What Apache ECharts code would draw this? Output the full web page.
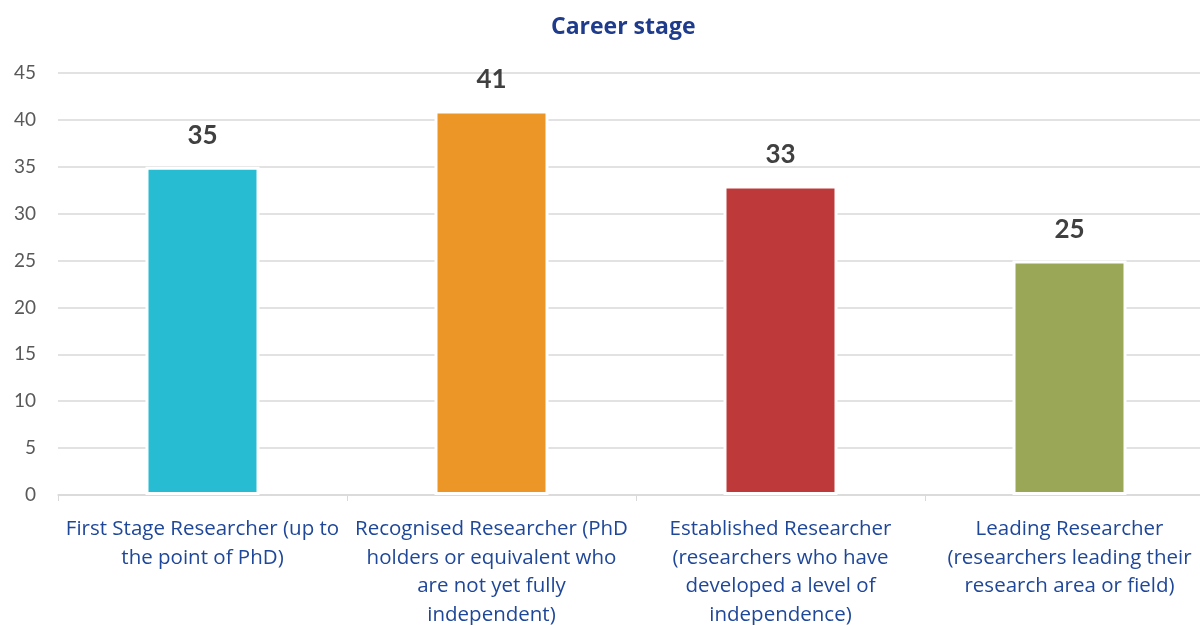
<!DOCTYPE html>
<html lang="en">
<head>
    <meta charset="UTF-8">
    <title>Career stage</title>
    <script src="https://cdn.jsdelivr.net/npm/echarts@6/dist/echarts.min.js"></script>
    <style>
        html, body { margin: 0; padding: 0; background: #fff; }
        #chart { width: 1200px; height: 625px; }
    </style>
</head>
<body>
<div id="chart"></div>
<script>
    // data
    var categories = [
        'First Stage Researcher (up to\nthe point of PhD)',
        'Recognised Researcher (PhD\nholders or equivalent who\nare not yet fully\nindependent)',
        'Established Researcher\n(researchers who have\ndeveloped a level of\nindependence)',
        'Leading Researcher\n(researchers leading their\nresearch area or field)'
    ];
    var values = [35, 41, 33, 25];
    var barColors = ['#28bcd2', '#ec9627', '#be3a3a', '#9aa757'];

    var chart = echarts.init(document.getElementById('chart'));

    var option = {
        animation: false,
        title: {
            text: 'Career stage',
            left: 546,
            top: 11,
            textStyle: { color: '#1f3b8c', fontSize: 23, fontWeight: 'bold', fontFamily: 'Open Sans' }
        },
        grid: { left: 58, right: -14, top: 73, bottom: 130, outerBoundsMode: 'none' },
        xAxis: {
            type: 'category',
            data: categories,
            axisLine: { lineStyle: { color: '#d9d9d9', width: 1.5 } },
            axisTick: { show: true, length: 6, lineStyle: { color: '#d9d9d9' } },
            axisLabel: {
                interval: 0,
                margin: 20,
                color: '#1f4799',
                fontSize: 20.5,
                lineHeight: 28.5,
                fontFamily: 'Open Sans',
                align: 'center'
            }
        },
        yAxis: {
            type: 'value',
            min: 0,
            max: 45,
            interval: 5,
            axisLine: { show: false },
            axisTick: { show: false },
            splitLine: { lineStyle: { color: '#d9d9d9', width: 1.5 } },
            axisLabel: { color: '#595959', fontSize: 19, margin: 22, fontFamily: 'Lato' }
        },
        series: [{
            type: 'bar',
            data: values.map(function (v, i) {
                return { value: v, itemStyle: { color: barColors[i] } };
            }),
            barWidth: 114,
            itemStyle: { borderColor: '#ffffff', borderWidth: 3 },
            label: {
                show: true,
                position: 'top',
                distance: 18,
                color: '#404040',
                fontSize: 26,
                fontWeight: 'bold',
                fontFamily: 'Lato'
            }
        }]
    };

    chart.setOption(option);
</script>
</body>
</html>
